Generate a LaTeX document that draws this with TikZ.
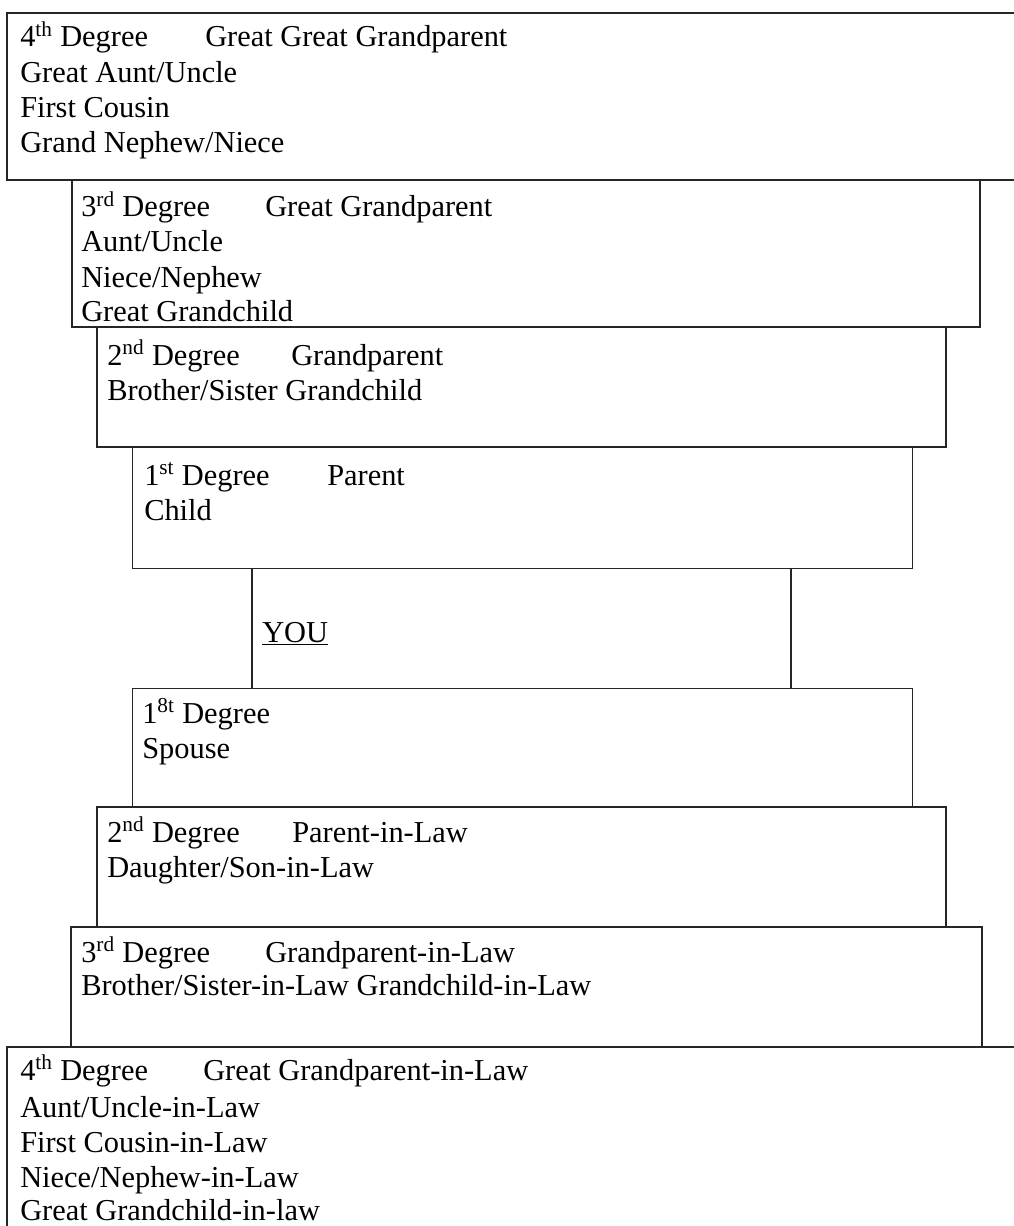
\documentclass[tikz,border=0pt]{standalone}
\usepackage{fontspec}
\setmainfont{Liberation Serif}
\begin{document}
\begin{tikzpicture}[x=0.75pt,y=-0.75pt,
  box/.style={draw=black!85,line width=0.9pt,fill=none},
  txt/.style={anchor=base west,inner sep=0pt,font=\fontsize{22.8}{26}\selectfont},
  sep/.style={draw=black!85,line width=0.9pt}]
\useasboundingbox (0,0) rectangle (1013,1226);
% boxes
\path[box] (7,13) rectangle (1040,180);
\path[box] (72,180) rectangle (980,327);
\path[box] (97,327) rectangle (946,447);
\node[box,anchor=north west,minimum width=780*0.75pt,minimum height=121*0.75pt,inner sep=0pt] (D) at (132,447) {};
\node[box,anchor=north west,minimum width=780*0.75pt,minimum height=119*0.75pt,inner sep=0pt] (E) at (132,688) {};
\path[box] (97,807) rectangle (946,927);
\path[box] (71,927) rectangle (982,1047);
\path[box] (7,1047) rectangle (1040,1250);
% YOU band sides
\coordinate (yl) at (252,0);
\coordinate (yr) at (791,0);
\draw[sep] (D.south -| yl) -- (E.north -| yl);
\draw[sep] (D.south -| yr) -- (E.north -| yr);
\node[txt] (you) at (262,642) {\underline{YOU}};
% box A
\node[txt] (a1) at (20,47) {4\textsuperscript{th} Degree};
\node[txt] (a1b) at (205,47) {Great Great Grandparent};
\node[txt] (a2) at (20,83) {Great Aunt/Uncle};
\node[txt] (a3) at (20,118) {First Cousin};
\node[txt] (a4) at (20,153) {Grand Nephew/Niece};
% box B
\node[txt] (b1) at (81,217) {3\textsuperscript{rd} Degree};
\node[txt] (b1b) at (265,217) {Great Grandparent};
\node[txt] (b2) at (81,252) {Aunt/Uncle};
\node[txt] (b3) at (81,288) {Niece/Nephew};
\node[txt] (b4) at (81,322) {Great Grandchild};
% box C
\node[txt] (c1) at (107,365) {2\textsuperscript{nd} Degree};
\node[txt] (c1b) at (291,365) {Grandparent};
\node[txt] (c2) at (107,400) {Brother/Sister Grandchild};
% box D
\node[txt] (d1) at (144,485) {1\textsuperscript{st} Degree};
\node[txt] (d1b) at (327,485) {Parent};
\node[txt] (d2) at (144,520) {Child};
% box E
\node[txt] (e1) at (142,723) {1\textsuperscript{8t} Degree};
\node[txt] (e2) at (142,758) {Spouse};
% box F
\node[txt] (f1) at (107,842) {2\textsuperscript{nd} Degree};
\node[txt] (f1b) at (292,842) {Parent-in-Law};
\node[txt] (f2) at (107,877) {Daughter/Son-in-Law};
% box G
\node[txt] (g1) at (81,962) {3\textsuperscript{rd} Degree};
\node[txt] (g1b) at (265,962) {Grandparent-in-Law};
\node[txt] (g2) at (81,995) {Brother/Sister-in-Law Grandchild-in-Law};
% box H
\node[txt] (h1) at (20,1080) {4\textsuperscript{th} Degree};
\node[txt] (h1b) at (203,1080) {Great Grandparent-in-Law};
\node[txt] (h2) at (20,1117) {Aunt/Uncle-in-Law};
\node[txt] (h3) at (20,1152) {First Cousin-in-Law};
\node[txt] (h4) at (20,1187) {Niece/Nephew-in-Law};
\node[txt] (h5) at (20,1220) {Great Grandchild-in-law};
\end{tikzpicture}
\end{document}
